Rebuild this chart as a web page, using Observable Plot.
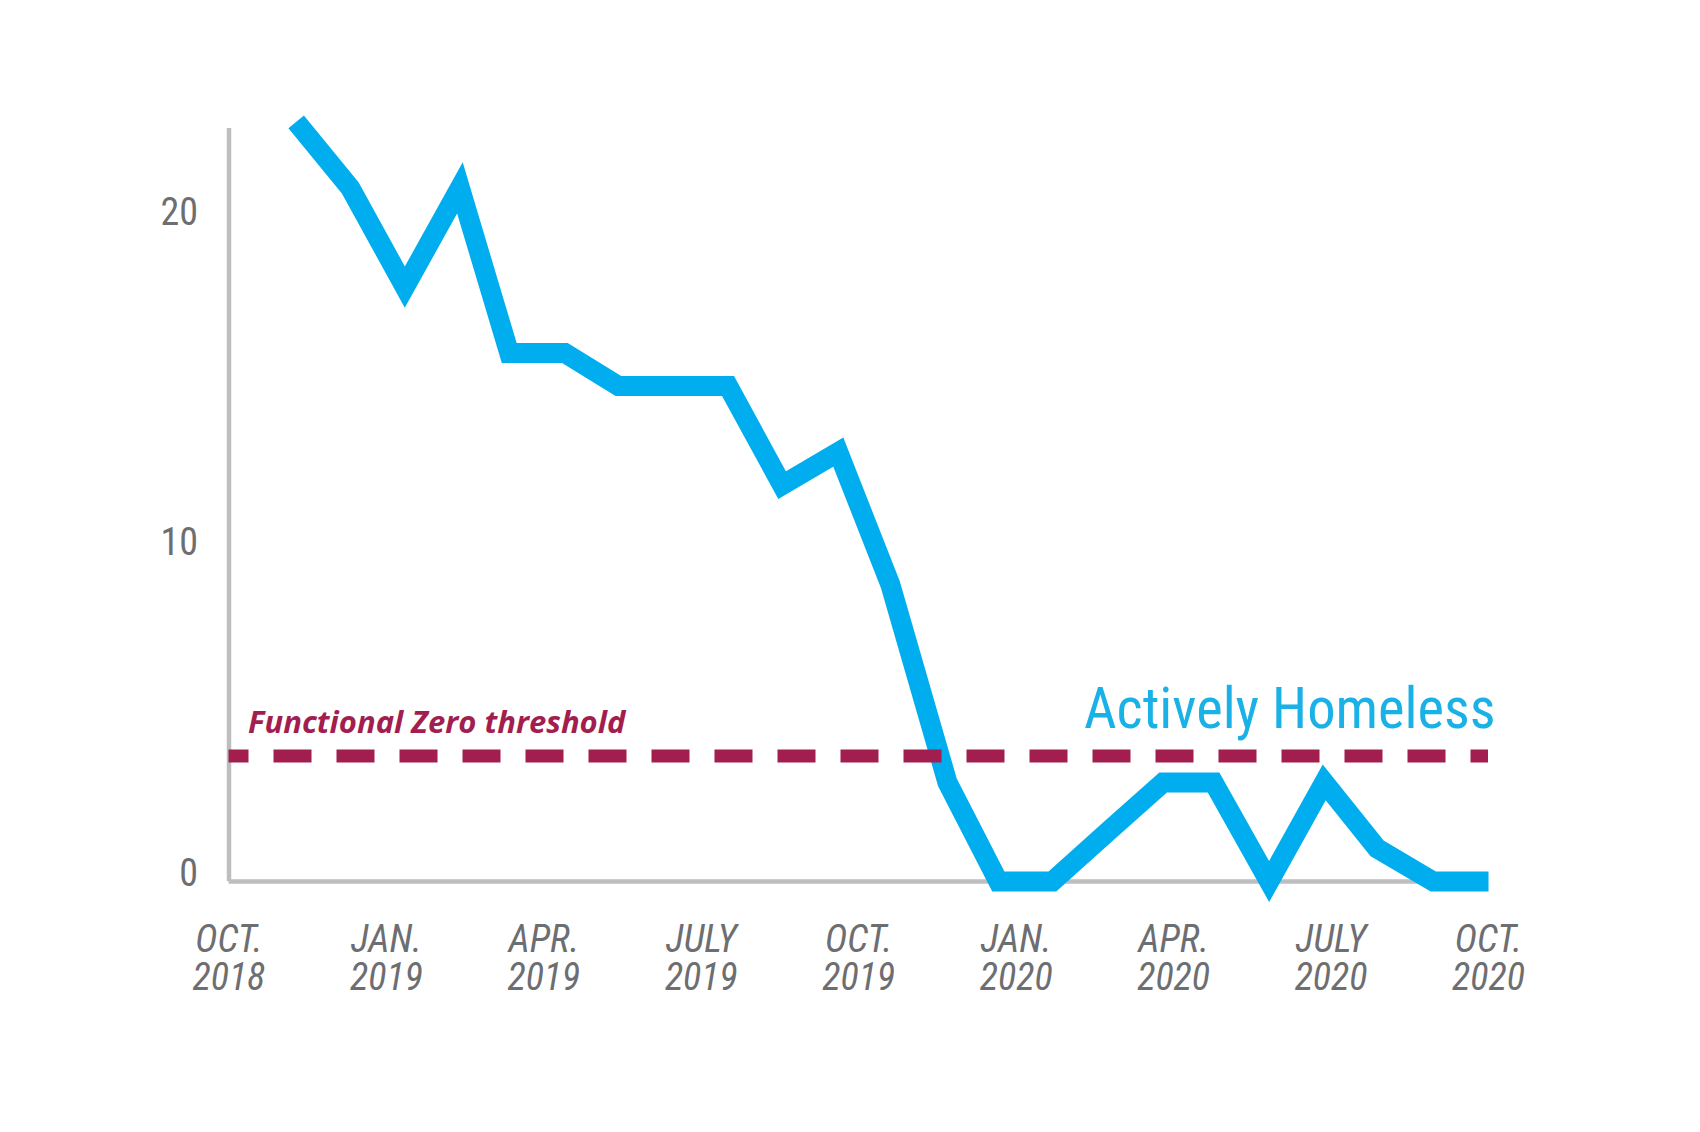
<!DOCTYPE html>
<html>
<head>
<meta charset="utf-8">
<script src="https://cdn.jsdelivr.net/npm/d3@7"></script>
<script src="https://cdn.jsdelivr.net/npm/@observablehq/plot@0.6"></script>
<style>
  html, body { margin: 0; padding: 0; background: #ffffff; }
  #chart svg { display: block; }
</style>
</head>
<body>
<div id="chart"></div>
<script>
// Position of each monthly reading, in months after Oct. 2018
const monthPos = [1.28, 2.31, 3.35, 4.40, 5.34, 6.40, 7.42, 8.44, 9.51, 10.54, 11.61, 12.60,
                  13.69, 14.66, 15.69, 16.74, 17.80, 18.76, 19.82, 20.87, 21.88, 22.95, 24];
// Actively homeless count
const activelyHomeless = [23, 21, 18, 21, 16, 16, 15, 15, 15, 12, 13, 9,
                          3, 0, 0, 1.5, 3, 3, 0, 3, 1, 0, 0];
// Functional Zero threshold
const functionalZero = 3.8;
// X axis ticks (months after Oct. 2018) and labels
const xTickMonths = [0, 3, 6, 9, 12, 15, 18, 21, 24];
const xTickLabels = ["OCT.\n2018", "JAN.\n2019", "APR.\n2019", "JULY\n2019", "OCT.\n2019",
                     "JAN.\n2020", "APR.\n2020", "JULY\n2020", "OCT.\n2020"];
const yTicks = [0, 10, 20];
const seriesName = "Actively Homeless";
const thresholdName = "Functional Zero threshold";

const data = monthPos.map((m, i) => ({m, v: activelyHomeless[i]}));

const condensed = "'Roboto Condensed', 'DejaVu Sans Condensed', 'Liberation Sans Narrow', sans-serif";
const gray = "#6d6e71";
const axisGray = "#bcbec0";
const blue = "#00aeef";
const maroon = "#a21e4f";

const chart = Plot.plot({
  width: 1700,
  height: 1132,
  marginLeft: 228.5,
  marginRight: 212,
  marginTop: 128,
  marginBottom: 251,
  x: {domain: [0, 24]},
  y: {domain: [0, 22.8]},
  style: {background: "#ffffff", fontFamily: condensed},
  marks: [
    Plot.ruleX([0], {y1: 0, y2: 22.8, stroke: axisGray, strokeWidth: 4.5}),
    Plot.ruleY([0], {x1: 0, x2: 24, stroke: axisGray, strokeWidth: 4.5}),
    Plot.axisY({
      ticks: yTicks, tickSize: 0, tickPadding: 31, dy: -8,
      fontSize: 38, fontFamily: condensed, fill: gray, label: null
    }),
    Plot.axisX({
      ticks: xTickMonths, tickSize: 0, tickPadding: 44,
      tickFormat: (d) => xTickLabels[xTickMonths.indexOf(d)],
      fontSize: 38, fontStyle: "italic", fontFamily: condensed, fill: gray,
      lineHeight: 1.0, label: null
    }),
    Plot.line(data, {
      x: "m", y: "v", stroke: blue, strokeWidth: 20,
      strokeLinejoin: "miter", strokeLinecap: "butt", strokeMiterlimit: 10
    }),
    Plot.ruleY([functionalZero], {
      x1: 0, x2: 24, stroke: maroon, strokeWidth: 13,
      strokeDasharray: "38,25", strokeDashoffset: 18
    }),
    Plot.text([thresholdName], {
      x: 0, y: functionalZero, text: (d) => d, textAnchor: "start",
      dx: 19, dy: -33, fontSize: 31, fontWeight: "bold", fontStyle: "italic",
      fontFamily: "'Open Sans', 'Noto Sans', sans-serif", fill: maroon
    }),
    Plot.text([seriesName], {
      x: 24, y: functionalZero, text: (d) => d, textAnchor: "end",
      dx: 7, dy: -46, fontSize: 56.5, fontFamily: condensed, fill: "#1ab1e7"
    })
  ]
});

document.getElementById("chart").appendChild(chart);
</script>
</body>
</html>
